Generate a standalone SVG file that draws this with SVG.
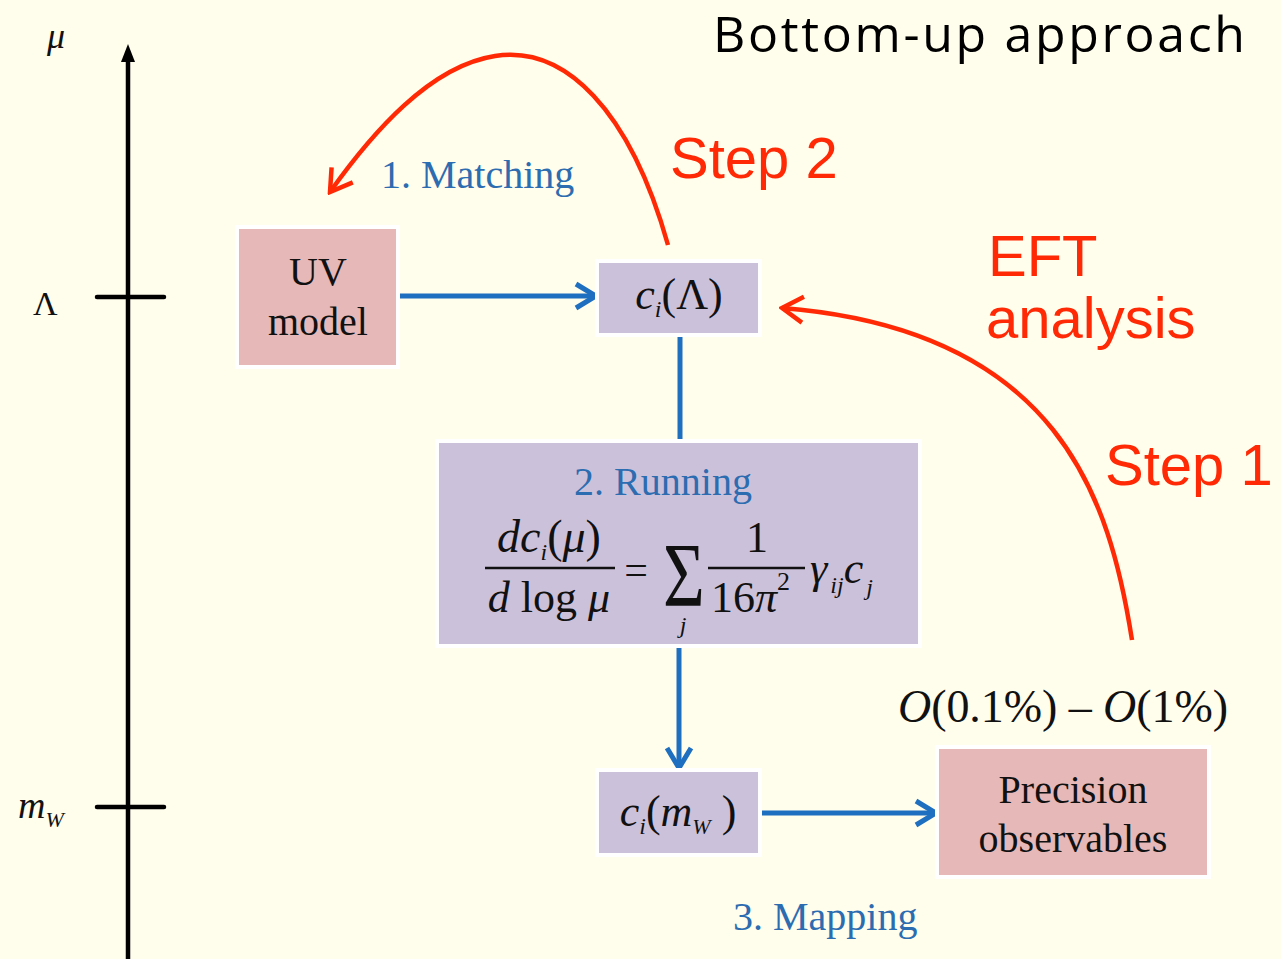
<svg xmlns="http://www.w3.org/2000/svg" width="1281" height="959" viewBox="0 0 1281 959">
<style>
.tm{font-family:"Liberation Serif","Times New Roman",serif;fill:#111}
.it{font-style:italic}
.blue{font-family:"Liberation Serif","Times New Roman",serif;fill:#2C6CB0;font-size:40px}
.red{font-family:"Liberation Sans",Arial,sans-serif;fill:#FF2A05;font-size:58px}
.pink{fill:#E6B8B8;stroke:#FFFFFF;stroke-width:4}
.lav{fill:#CCC1DA;stroke:#FFFFFF;stroke-width:4}
.bl{stroke:#1E6FC0;stroke-width:5;fill:none}
.rd{stroke:#FF2A05;stroke-width:4.5;fill:none}
.ax{stroke:#000;stroke-width:4.5;fill:none;stroke-linecap:round}
</style>
<defs>
<marker id="bh" viewBox="0 0 26 30" refX="23" refY="15" markerWidth="26" markerHeight="30" orient="auto" markerUnits="userSpaceOnUse">
<path d="M3 3 L23 15 L3 27" fill="none" stroke="#1E6FC0" stroke-width="5"/>
</marker>
<marker id="rh" viewBox="0 0 28 32" refX="25" refY="16" markerWidth="28" markerHeight="32" orient="auto" markerUnits="userSpaceOnUse">
<path d="M4 3 L25 16 L4 29" fill="none" stroke="#FF2A05" stroke-width="4.5"/>
</marker>
</defs>
<rect x="0" y="0" width="1281" height="959" fill="#FFFDEC"/>

<g id="axis">
<line class="ax" x1="128" y1="58" x2="128" y2="959"/>
<path d="M128 44 L121 62 L135 62 Z" fill="#000"/>
<line class="ax" x1="97" y1="297" x2="164" y2="297"/>
<line class="ax" x1="97" y1="807" x2="164" y2="807"/>
<text class="tm it" x="47" y="48" font-size="36">μ</text>
<text class="tm" x="33" y="315" font-size="34">Λ</text>
<text class="tm it" x="18" y="818" font-size="38">m<tspan font-size="22" dy="9">W</tspan></text>
</g>

<g id="title">
<text x="713" y="52" font-family="'Open Sans','Noto Sans',sans-serif" font-size="50" fill="#000" textLength="532">Bottom-up approach</text>
</g>

<g id="connectors">
<line class="bl" x1="400" y1="296" x2="596" y2="296" marker-end="url(#bh)"/>
<line class="bl" x1="680" y1="336" x2="680" y2="441"/>
<line class="bl" x1="679" y1="646" x2="679" y2="768" marker-end="url(#bh)"/>
<line class="bl" x1="762" y1="813" x2="936" y2="813" marker-end="url(#bh)"/>
<path class="rd" d="M668 245 C630 110 565 45 495 56 C430 66 372 133 330 192" marker-end="url(#rh)"/>
<path class="rd" d="M1132 640 C1110 500 1060 330 782 308" marker-end="url(#rh)"/>
</g>

<g id="uv-model">
<rect class="pink" x="237" y="227" width="161" height="140"/>
<text class="tm" x="318" y="285" font-size="40" text-anchor="middle">UV</text>
<text class="tm" x="318" y="335" font-size="40" text-anchor="middle">model</text>
</g>

<g id="c-lambda">
<rect class="lav" x="597" y="261" width="163" height="74"/>
<text class="tm" x="679" y="309" font-size="44" text-anchor="middle"><tspan class="it">c</tspan><tspan class="it" font-size="24" dy="8">i</tspan><tspan dy="-8">(Λ)</tspan></text>
</g>

<g id="running">
<rect class="lav" x="437" y="441" width="483" height="205"/>
<text class="blue" x="663" y="495" text-anchor="middle">2. Running</text>
<text class="tm" x="549" y="552" font-size="46" text-anchor="middle"><tspan class="it">dc</tspan><tspan class="it" font-size="24" dy="8">i</tspan><tspan dy="-8">(</tspan><tspan class="it">μ</tspan>)</text>
<line x1="485" y1="568" x2="615" y2="568" stroke="#111" stroke-width="2.5"/>
<text class="tm" x="549" y="612" font-size="44" text-anchor="middle"><tspan class="it">d</tspan> log <tspan class="it">μ</tspan></text>
<text class="tm" x="636" y="584" font-size="42" text-anchor="middle">=</text>
<text class="tm" font-size="92" text-anchor="middle" transform="translate(684 606) scale(0.78 1)">Σ</text>
<text class="tm it" x="683" y="633" font-size="24" text-anchor="middle">j</text>
<text class="tm" x="757" y="552" font-size="44" text-anchor="middle">1</text>
<line x1="708" y1="568" x2="805" y2="568" stroke="#111" stroke-width="2.5"/>
<text class="tm" x="711" y="612" font-size="44">16<tspan class="it">π</tspan><tspan font-size="26" dy="-22">2</tspan></text>
<text class="tm it" x="810" y="583" font-size="44">γ<tspan font-size="24" dy="10" dx="3">ij</tspan><tspan dy="-10">c</tspan><tspan font-size="24" dy="12" dx="3">j</tspan></text>
</g>

<g id="c-mw">
<rect class="lav" x="597" y="770" width="163" height="85"/>
<text class="tm" x="678" y="826" font-size="44" text-anchor="middle"><tspan class="it">c</tspan><tspan class="it" font-size="24" dy="8">i</tspan><tspan dy="-8">(</tspan><tspan class="it">m</tspan><tspan class="it" font-size="22" dy="8">W</tspan><tspan dy="-8"> )</tspan></text>
</g>

<g id="precision">
<rect class="pink" x="937" y="747" width="272" height="130"/>
<text class="tm" x="1073" y="803" font-size="40" text-anchor="middle">Precision</text>
<text class="tm" x="1073" y="852" font-size="40" text-anchor="middle">observables</text>
</g>

<g id="labels">
<text class="tm" x="898" y="722" font-size="46" textLength="330"><tspan class="it">O</tspan>(0.1%) – <tspan class="it">O</tspan>(1%)</text>
<text class="blue" x="381" y="188">1. Matching</text>
<text class="blue" x="733" y="930">3. Mapping</text>
<text class="red" x="670" y="178">Step 2</text>
<text class="red" x="988" y="276">EFT</text>
<text class="red" x="986" y="338">analysis</text>
<text class="red" x="1105" y="485">Step 1</text>
</g>
</svg>
